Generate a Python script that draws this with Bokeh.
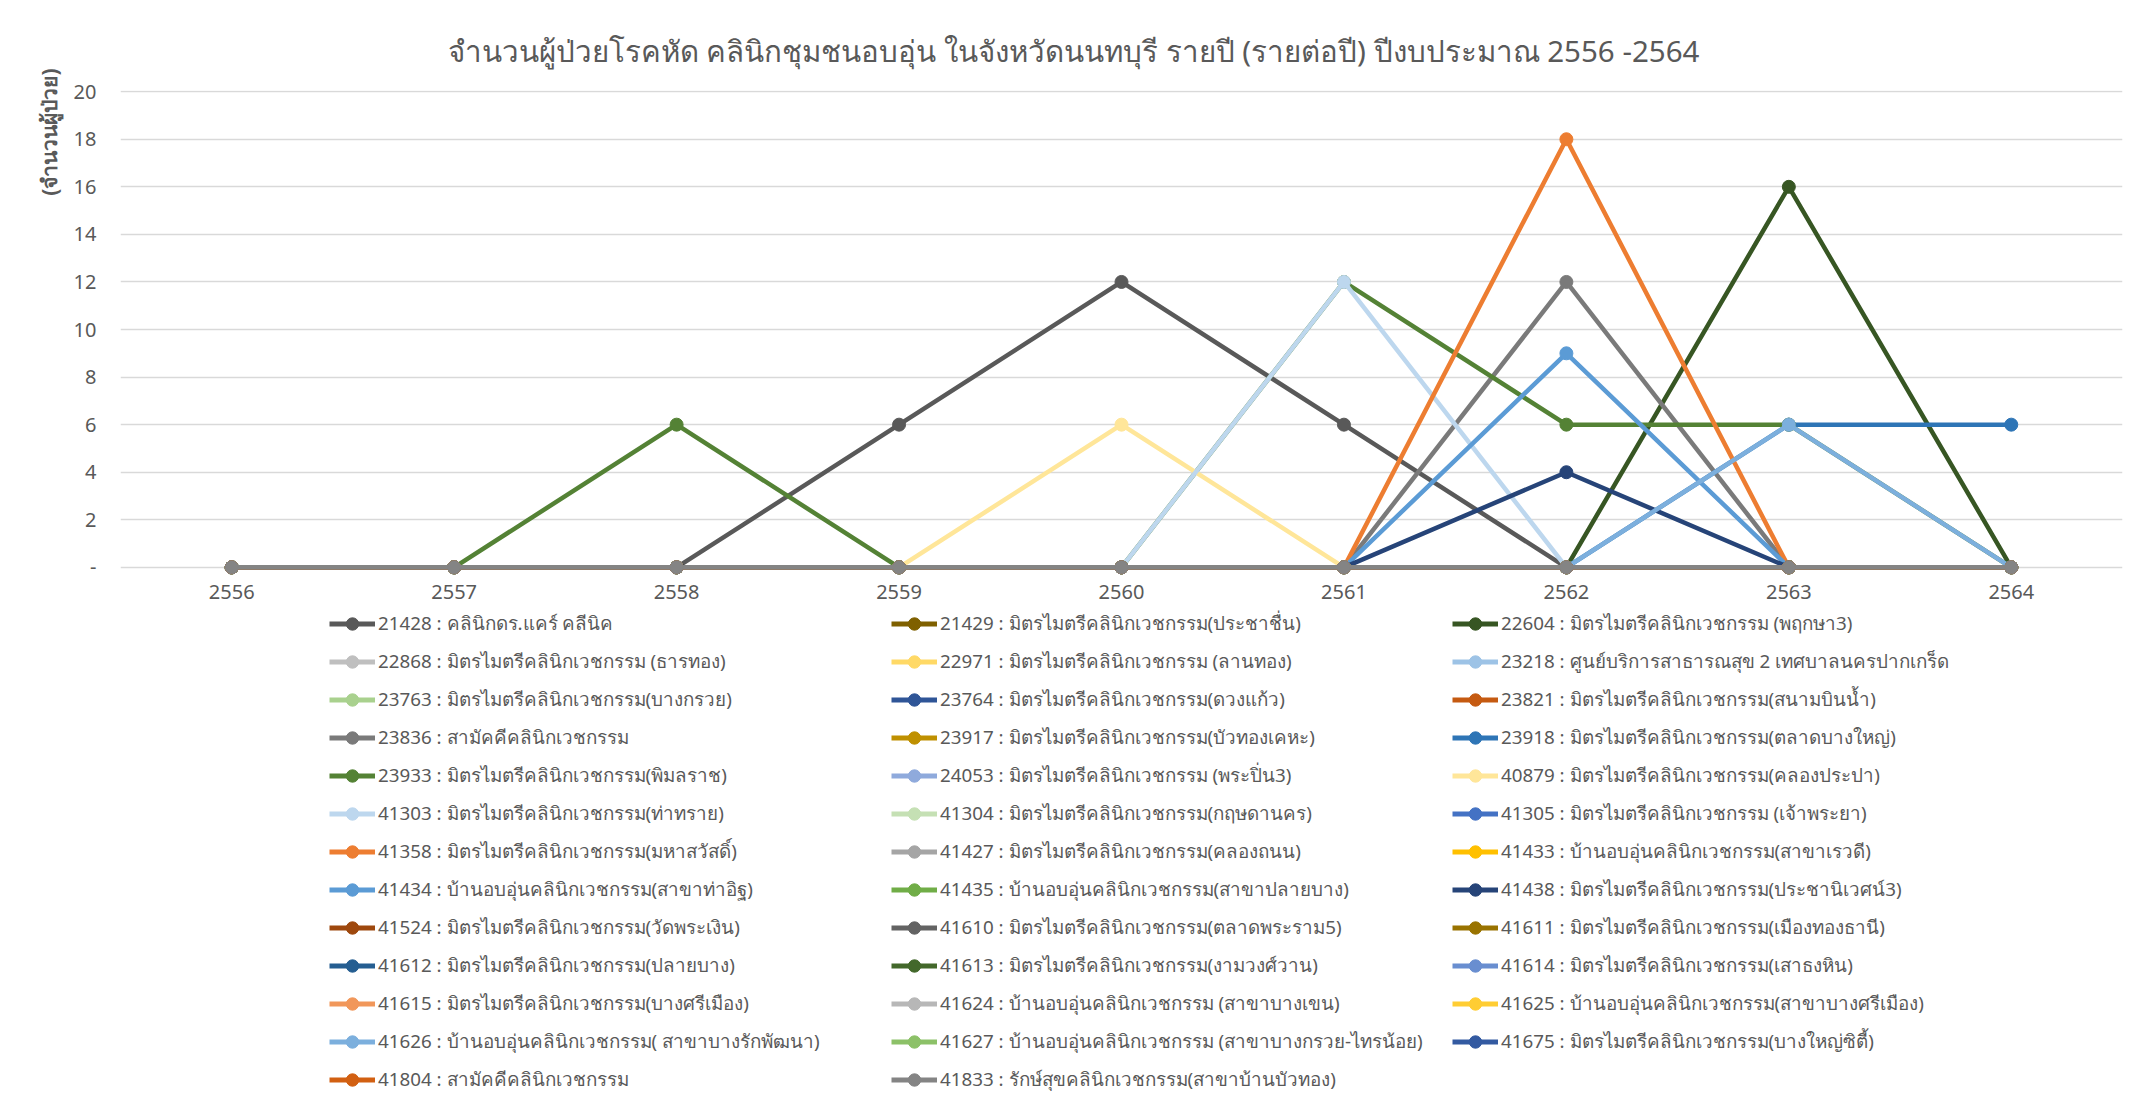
from bokeh.plotting import figure
from bokeh.layouts import column
from bokeh.models import Range1d, FixedTicker, Legend, LegendItem, Title
from bokeh.embed import file_html
from bokeh.resources import INLINE

# ---------------- data ----------------
years = [2556, 2557, 2558, 2559, 2560, 2561, 2562, 2563, 2564]
y_ticks = [0, 2, 4, 6, 8, 10, 12, 14, 16, 18, 20]

title_text = "จำนวนผู้ป่วยโรคหัด คลินิกชุมชนอบอุ่น ในจังหวัดนนทบุรี รายปี (รายต่อปี) ปีงบประมาณ 2556 -2564"
y_title = "(จำนวนผู้ป่วย)"

codes = ["21428", "21429", "22604", "22868", "22971", "23218", "23763", "23764",
         "23821", "23836", "23917", "23918", "23933", "24053", "40879", "41303",
         "41304", "41305", "41358", "41427", "41433", "41434", "41435", "41438",
         "41524", "41610", "41611", "41612", "41613", "41614", "41615", "41624",
         "41625", "41626", "41627", "41675", "41804", "41833"]

names = [
    "คลินิกดร.แคร์ คลีนิค",
    "มิตรไมตรีคลินิกเวชกรรม(ประชาชื่น)",
    "มิตรไมตรีคลินิกเวชกรรม (พฤกษา3)",
    "มิตรไมตรีคลินิกเวชกรรม (ธารทอง)",
    "มิตรไมตรีคลินิกเวชกรรม (ลานทอง)",
    "ศูนย์บริการสาธารณสุข 2 เทศบาลนครปากเกร็ด",
    "มิตรไมตรีคลินิกเวชกรรม(บางกรวย)",
    "มิตรไมตรีคลินิกเวชกรรม(ดวงแก้ว)",
    "มิตรไมตรีคลินิกเวชกรรม(สนามบินน้ำ)",
    "สามัคคีคลินิกเวชกรรม",
    "มิตรไมตรีคลินิกเวชกรรม(บัวทองเคหะ)",
    "มิตรไมตรีคลินิกเวชกรรม(ตลาดบางใหญ่)",
    "มิตรไมตรีคลินิกเวชกรรม(พิมลราช)",
    "มิตรไมตรีคลินิกเวชกรรม (พระปิ่น3)",
    "มิตรไมตรีคลินิกเวชกรรม(คลองประปา)",
    "มิตรไมตรีคลินิกเวชกรรม(ท่าทราย)",
    "มิตรไมตรีคลินิกเวชกรรม(กฤษดานคร)",
    "มิตรไมตรีคลินิกเวชกรรม (เจ้าพระยา)",
    "มิตรไมตรีคลินิกเวชกรรม(มหาสวัสดิ์)",
    "มิตรไมตรีคลินิกเวชกรรม(คลองถนน)",
    "บ้านอบอุ่นคลินิกเวชกรรม(สาขาเรวดี)",
    "บ้านอบอุ่นคลินิกเวชกรรม(สาขาท่าอิฐ)",
    "บ้านอบอุ่นคลินิกเวชกรรม(สาขาปลายบาง)",
    "มิตรไมตรีคลินิกเวชกรรม(ประชานิเวศน์3)",
    "มิตรไมตรีคลินิกเวชกรรม(วัดพระเงิน)",
    "มิตรไมตรีคลินิกเวชกรรม(ตลาดพระราม5)",
    "มิตรไมตรีคลินิกเวชกรรม(เมืองทองธานี)",
    "มิตรไมตรีคลินิกเวชกรรม(ปลายบาง)",
    "มิตรไมตรีคลินิกเวชกรรม(งามวงศ์วาน)",
    "มิตรไมตรีคลินิกเวชกรรม(เสาธงหิน)",
    "มิตรไมตรีคลินิกเวชกรรม(บางศรีเมือง)",
    "บ้านอบอุ่นคลินิกเวชกรรม (สาขาบางเขน)",
    "บ้านอบอุ่นคลินิกเวชกรรม(สาขาบางศรีเมือง)",
    "บ้านอบอุ่นคลินิกเวชกรรม( สาขาบางรักพัฒนา)",
    "บ้านอบอุ่นคลินิกเวชกรรม (สาขาบางกรวย-ไทรน้อย)",
    "มิตรไมตรีคลินิกเวชกรรม(บางใหญ่ซิตี้)",
    "สามัคคีคลินิกเวชกรรม",
    "รักษ์สุขคลินิกเวชกรรม(สาขาบ้านบัวทอง)",
]

# values per year (2556..2564); series not listed are all zero
v_21428 = [0, 0, 0, 6, 12, 6, 0, 0, 0]
v_22604 = [0, 0, 0, 0, 0, 0, 0, 16, 0]
v_23836 = [0, 0, 0, 0, 0, 0, 12, 0, 0]
v_23918 = [0, 0, 0, 0, 0, 0, 0, 6, 6]
v_23933 = [0, 0, 6, 0, 0, 12, 6, 6, 0]
v_40879 = [0, 0, 0, 0, 6, 0, 0, 0, 0]
v_41303 = [0, 0, 0, 0, 0, 12, 0, 0, 0]
v_41358 = [0, 0, 0, 0, 0, 0, 18, 0, 0]
v_41434 = [0, 0, 0, 0, 0, 0, 9, 0, 0]
v_41438 = [0, 0, 0, 0, 0, 0, 4, 0, 0]
v_41626 = [0, 0, 0, 0, 0, 0, 0, 6, 0]
v_zero = [0, 0, 0, 0, 0, 0, 0, 0, 0]

nonzero = {
    "21428": v_21428, "22604": v_22604, "23836": v_23836, "23918": v_23918,
    "23933": v_23933, "40879": v_40879, "41303": v_41303, "41358": v_41358,
    "41434": v_41434, "41438": v_41438, "41626": v_41626,
}

# ---------------- styles ----------------
colors = ["#595959", "#7f6000", "#375623", "#bfbfbf", "#ffd966", "#9dc3e6",
          "#a9d18e", "#2f5597", "#c55a11", "#7a7a7a", "#bf9000", "#2e75b6",
          "#548235", "#8faadc", "#ffe699", "#bdd7ee", "#c5e0b4", "#4472c4",
          "#ed7d31", "#a5a5a5", "#ffc000", "#5b9bd5", "#70ad47", "#264478",
          "#9e480e", "#636363", "#997300", "#255e91", "#43682b", "#698ed0",
          "#f1975a", "#b7b7b7", "#ffcd33", "#7cafdd", "#8cc168", "#335aa1",
          "#d26012", "#848484"]

FONT = "Noto Sans"
TXT = "#595959"
LW, MS = 4.5, 13

W = 2128
HP = 606          # chart figure height
HL = 494          # legend figure height

# ---------------- chart ----------------
p = figure(width=W, height=HP, output_backend="svg", toolbar_location=None,
           x_range=Range1d(2555.5, 2564.5), y_range=Range1d(-0.3, 20.05),
           min_border_left=120, min_border_right=W - 2122, min_border_top=90,
           min_border_bottom=HP - 574)
p.outline_line_color = None
p.background_fill_color = "white"
p.border_fill_color = "white"

p.xgrid.grid_line_color = None
p.ygrid.grid_line_color = "#d9d9d9"
p.ygrid.grid_line_width = 1.5
p.yaxis.ticker = FixedTicker(ticks=y_ticks)
p.xaxis.ticker = FixedTicker(ticks=years)
p.yaxis.major_label_overrides = {0: "-"}

for ax in (p.xaxis, p.yaxis):
    ax.major_tick_line_color = None
    ax.minor_tick_line_color = None
    ax.axis_line_color = None
    ax.major_label_text_font = FONT
    ax.major_label_text_font_size = "20px"
    ax.major_label_text_color = TXT
p.yaxis.major_label_standoff = 18
p.xaxis.major_label_standoff = 4

p.title.text = title_text
p.title.align = "left"
p.title.offset = 327
p.title.standoff = 40
p.title.text_font = FONT
p.title.text_font_size = "29.5px"
p.title.text_font_style = "normal"
p.title.text_color = TXT

p.add_layout(Title(text=y_title, align="right", offset=-22, standoff=16,
                   text_font=FONT, text_font_size="21px",
                   text_font_style="bold", text_color=TXT), "left")

for code, col in zip(codes, colors):
    vals = nonzero.get(code, v_zero)
    p.line(years, vals, line_color=col, line_width=LW)
    p.scatter(years, vals, marker="circle", size=MS, fill_color=col,
              line_color=col)

# ---------------- legend (own figure below the chart) ----------------
# the series are re-drawn here outside the visible range, only to feed the legend
lf = figure(width=W, height=HL, output_backend="svg", toolbar_location=None,
            x_axis_type=None, y_axis_type=None,
            x_range=Range1d(0, 1), y_range=Range1d(100, 101),
            min_border=0, min_border_left=0, min_border_right=0,
            min_border_top=0, min_border_bottom=0)
lf.outline_line_color = None
lf.background_fill_color = "white"
lf.border_fill_color = "white"
lf.grid.visible = False

items = []
for code, name, col in zip(codes, names, colors):
    vals = nonzero.get(code, v_zero)
    lr = lf.line(years, vals, line_color=col, line_width=LW + 0.5)
    sr = lf.scatter(years, vals, marker="circle", size=MS, fill_color=col,
                    line_color=col)
    items.append(LegendItem(label=f"{code} : {name}", renderers=[lr, sr]))

frame_left = 120  # legend figure's frame is aligned with the chart's frame
col_x = [329 - frame_left, 891 - frame_left, 1452 - frame_left]
item_h, gap = 31, 7
top = 1.5
for c in range(3):
    its = items[c::3]
    n = len(its)
    height = n * item_h + (n - 1) * gap
    y_loc = HL - (top + height)
    lg = Legend(items=its, location=(col_x[c], y_loc), orientation="vertical",
                padding=0, margin=0, spacing=gap,
                glyph_width=46, glyph_height=item_h, label_height=item_h,
                label_standoff=3, border_line_color=None,
                background_fill_alpha=0,
                label_text_font=FONT, label_text_font_size="18.8px",
                label_text_color=TXT)
    lf.add_layout(lg, "center")

layout = column(p, lf, spacing=0)
open("out.html", "w").write(file_html(layout, INLINE))
